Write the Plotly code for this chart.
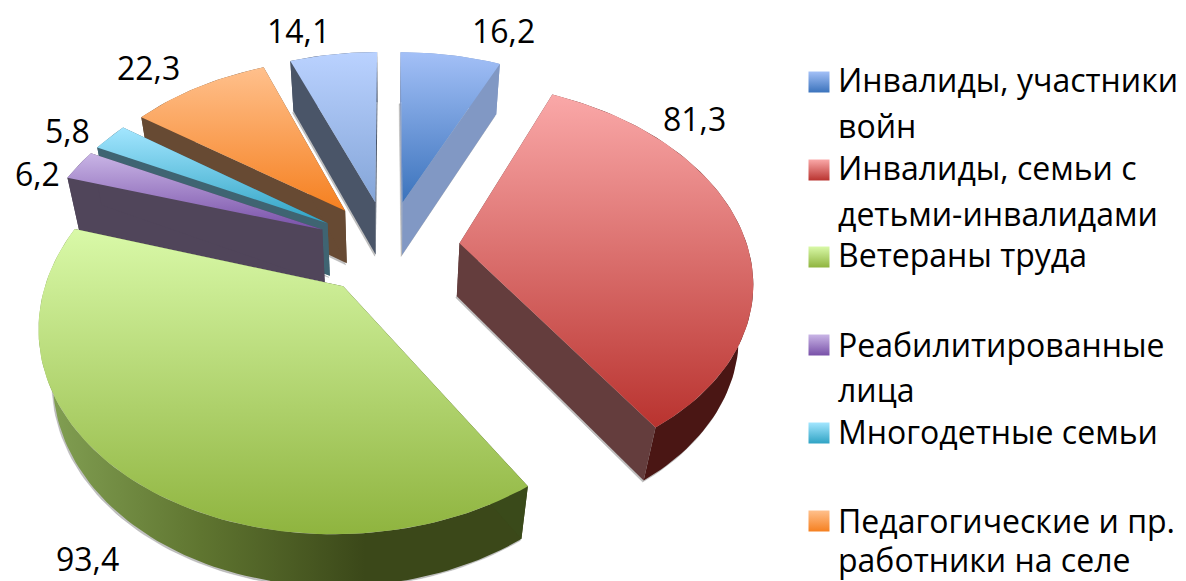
import math
import plotly.graph_objects as go

categories = ["Инвалиды, участники войн", "Инвалиды, семьи с детьми-инвалидами", "Ветераны труда",
              "Реабилитированные лица", "Многодетные семьи", "Педагогические и пр. работники на селе", "Иные"]
values = [16.2, 81.3, 93.4, 6.2, 5.8, 22.3, 14.1]
value_labels = ["16,2", "81,3", "93,4", "6,2", "5,8", "22,3", "14,1"]
label_xy = [(503, 30), (694, 118), (87, 558), (37, 173), (67, 130), (148, 67), (298, 30)]
legend_lines = [["Инвалиды, участники", "войн"], ["Инвалиды, семьи с", "детьми-инвалидами"], ["Ветераны труда"],
                ["Реабилитированные", "лица"], ["Многодетные семьи"], ["Педагогические и пр.", "работники на селе"]]
legend_baselines = [[92, 138], [180, 226], [267], [357, 402], [444], [533, 572]]
legend_marker_y = [82, 170, 257, 345, 433, 521]
top_colors = [("#A3C0F7", "#3B73BC"), ("#FAA8A8", "#B9332F"), ("#D9F9A8", "#8FB43F"),
              ("#C9B5E6", "#7850A8"), ("#A3E6FF", "#2FA3C4"), ("#FFC08C", "#F58020"), ("#BAD2FF", "#84A5D8")]
cut_colors = ["#8198C4", "#643D3D", "#3A4A1A", "#50455A", "#3F6472", "#674A33", "#4A5568"]
rim_scales = [["#8198C4", "#8198C4"], ["#4A1614", "#4A1614"], ["#84A255", "#5F7530", "#3B4819", "#3B4819"],
              ["#50455A", "#50455A"], ["#3F6472", "#3F6472"], ["#674A33", "#674A33"], ["#4A5568", "#4A5568"]]

CX, CY, RX, RY, DZ, KY, KZ, EXPLODE = 388, 247, 288, 190, 55, 0.172, 0.04, 0.25
FONT = "Open Sans"
FS = 32
BASE_OFFSET = 12.5
total = sum(values)


def proj(X, Y, Z):
    s = 1 / (1 - KY * Y + KZ * Z)
    return CX + X * RX * s, CY + (Y * RY + Z * DZ) * s


def poly(pts):
    xs = [p[0] for p in pts] + [pts[0][0]]
    ys = [p[1] for p in pts] + [pts[0][1]]
    return xs, ys


def scale(cols):
    n = len(cols) - 1
    return [[i / n, c] for i, c in enumerate(cols)]


fig = go.Figure()


def add_shape(pts, fillcolor=None, grad=None, line=None):
    xs, ys = poly(pts)
    kw = dict(x=xs, y=ys, mode="lines", fill="toself", showlegend=False, hoverinfo="skip",
              line=line or dict(width=0, color="rgba(0,0,0,0)"))
    if grad:
        kw["fillgradient"] = grad
    else:
        kw["fillcolor"] = fillcolor
    fig.add_trace(go.Scatter(**kw))


cum, spans = 0, []
for v in values:
    spans.append((cum / total * 2 * math.pi, (cum + v) / total * 2 * math.pi))
    cum += v

for i in [0, 6, 5, 4, 3, 1, 2]:
    a0, a1 = spans[i]
    mid = (a0 + a1) / 2
    ox, oy = EXPLODE * math.sin(mid), -EXPLODE * math.cos(mid)
    n = max(4, int((a1 - a0) * 40))
    arc = [(ox + math.sin(a0 + (a1 - a0) * j / n), oy - math.cos(a0 + (a1 - a0) * j / n)) for j in range(n + 1)]
    apex = (ox, oy)
    top = [proj(apex[0], apex[1], 0)] + [proj(x, y, 0) for x, y in arc]
    rim = [proj(x, y, 0) for x, y in arc] + [proj(x, y, 1) for x, y in reversed(arc)]
    cut0 = [proj(*apex, 0), proj(*arc[0], 0), proj(*arc[0], 1), proj(*apex, 1)]
    cut1 = [proj(*apex, 0), proj(*arc[-1], 0), proj(*arc[-1], 1), proj(*apex, 1)]
    base = [proj(apex[0], apex[1], 1)] + [proj(x, y, 1) for x, y in arc]
    shadow = [(x - 1, y + 1.5) for x, y in base]
    add_shape(shadow, fillcolor="rgba(130,130,130,0.5)", line=dict(width=1, color="rgba(150,150,150,0.3)"))
    add_shape(rim, grad=dict(type="horizontal", colorscale=scale(rim_scales[i])))
    add_shape(cut0, fillcolor=cut_colors[i])
    add_shape(cut1, fillcolor=cut_colors[i])
    c0, c1 = top_colors[i]
    add_shape(top, grad=dict(type="vertical", colorscale=[[0, c1], [1, c0]]))

anns = []
for t, (x, y) in zip(value_labels, label_xy):
    anns.append(dict(x=x, y=y, text=t, showarrow=False, xanchor="center", yanchor="middle",
                     font=dict(family=FONT, size=FS, color="#000")))

for i, (lines, bases) in enumerate(zip(legend_lines, legend_baselines)):
    c0, c1 = top_colors[i]
    fig.add_trace(go.Scatter(x=[819], y=[legend_marker_y[i]], mode="markers", showlegend=False, hoverinfo="skip",
                             name=" ".join(lines),
                             marker=dict(symbol="square", size=21, color=c0, line=dict(width=0),
                                         gradient=dict(type="vertical", color=c1))))
    for t, b in zip(lines, bases):
        anns.append(dict(x=836, y=b - BASE_OFFSET, text=t, showarrow=False, xanchor="left", yanchor="middle",
                         font=dict(family=FONT, size=FS, color="#000")))

# The page body has an 8 px margin, so the plot area covers 8..1186 and 8..581 of the window.
fig.update_layout(width=1178, height=573, margin=dict(l=0, r=0, t=0, b=0), paper_bgcolor="white",
                  plot_bgcolor="white", annotations=anns, showlegend=False,
                  xaxis=dict(range=[8, 1186], visible=False, fixedrange=True),
                  yaxis=dict(range=[581, 8], visible=False, fixedrange=True))
fig.write_html("out.html", config=dict(displayModeBar=False))
